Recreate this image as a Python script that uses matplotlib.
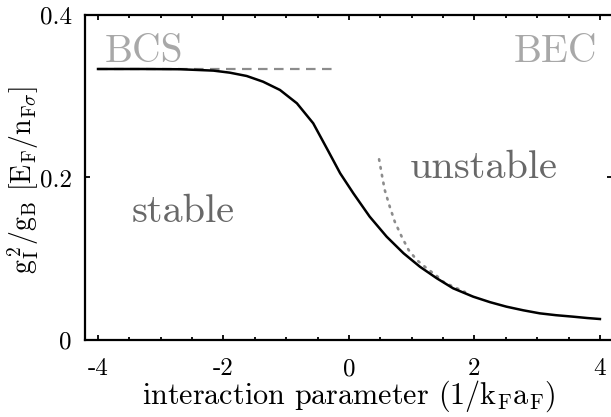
import matplotlib
matplotlib.use("Agg")
import matplotlib.pyplot as plt
from matplotlib.ticker import MultipleLocator

plt.rcParams['font.family'] = ['cmr10', 'DejaVu Serif']
plt.rcParams['mathtext.fontset'] = 'cm'
plt.rcParams['axes.unicode_minus'] = False

# Main curve (black)
curve_x = [-4.0, -3.3, -2.69, -2.16, -1.90, -1.63, -1.37, -1.10, -0.83, -0.57,
           -0.33, -0.14, 0.07, 0.33, 0.60, 0.87, 1.13, 1.40, 1.66,
           1.98, 2.25, 2.51, 2.78, 3.04, 3.30, 3.57, 3.80, 4.0]
curve_y = [0.3335, 0.3335, 0.3332, 0.3315, 0.3290, 0.3249, 0.3179, 0.3077, 0.2913, 0.2667,
           0.2325, 0.2051, 0.1805, 0.1518, 0.1272, 0.1067, 0.0902, 0.0759, 0.0636,
           0.0533, 0.0465, 0.0410, 0.0365, 0.0328, 0.0305, 0.0287, 0.0270, 0.0258]

# BCS asymptote (dashed)
bcs_x = [-4.0, -0.27]
bcs_y = [0.3335, 0.3335]

# BEC asymptote (dotted)
bec_x = [0.48, 0.52, 0.57, 0.65, 0.73, 0.84, 0.95, 1.08, 1.24, 1.40, 1.50, 1.65, 1.85]
bec_y = [0.2224, 0.2051, 0.1846, 0.1641, 0.1456, 0.1272, 0.1108, 0.0985, 0.0882, 0.0788,
         0.0718, 0.0660, 0.0590]

xticks = [-4, -2, 0, 2, 4]
xticklabels = ['-4', '-2', '0', '2', '4']
yticks = [0, 0.2, 0.4]
yticklabels = ['0', '0.2', '0.4']

fig = plt.figure(figsize=(6.11, 4.17), dpi=100)
ax = fig.add_axes([0.1399, 0.1847, 0.8625, 0.7794])

ax.plot(bcs_x, bcs_y, color='#8c8c8c', lw=1.6, dashes=(4.3, 2.9), zorder=2)
ax.plot(bec_x, bec_y, color='#8c8c8c', lw=1.9, linestyle=(0, (0.6, 2.4)),
        dash_capstyle='round', zorder=2)
ax.plot(curve_x, curve_y, color='black', lw=1.8, zorder=3)

ax.set_xlim(-4.2, 4.2)
ax.set_ylim(0, 0.4)
ax.set_xticks(xticks)
ax.set_xticklabels(xticklabels)
ax.set_yticks(yticks)
ax.set_yticklabels(yticklabels)
ax.xaxis.set_minor_locator(MultipleLocator(0.5))

ax.tick_params(which='both', direction='in', top=True, right=True, width=1.3)
ax.tick_params(which='major', length=3.5, labelsize=18)
ax.tick_params(which='minor', length=2.5)
ax.tick_params(axis='x', pad=13)
ax.tick_params(axis='y', pad=10)
for s in ax.spines.values():
    s.set_linewidth(1.6)

ax.set_xlabel(r'interaction parameter (1/k$_{\mathrm{F}}$a$_{\mathrm{F}}$)', fontsize=21.7, labelpad=-1)
ax.set_ylabel(r'g$_{\mathrm{I}}^{\,2}$/g$_{\mathrm{B}}$ [E$_{\mathrm{F}}$/n$_{\mathrm{F}\sigma}$]',
              fontsize=20)
ax.yaxis.set_label_coords(-0.084, 0.492)

ax.text(-3.89, 0.3425, 'BCS', color='#a8a8a8', fontsize=28.5, ha='left', va='baseline')
ax.text(3.95, 0.3425, 'BEC', color='#a8a8a8', fontsize=28.5, ha='right', va='baseline')
ax.text(0.97, 0.199, 'unstable', color='#686868', fontsize=29, ha='left', va='baseline')
ax.text(-3.46, 0.1456, 'stable', color='#686868', fontsize=29, ha='left', va='baseline')

fig.savefig('out.png', dpi=100)
